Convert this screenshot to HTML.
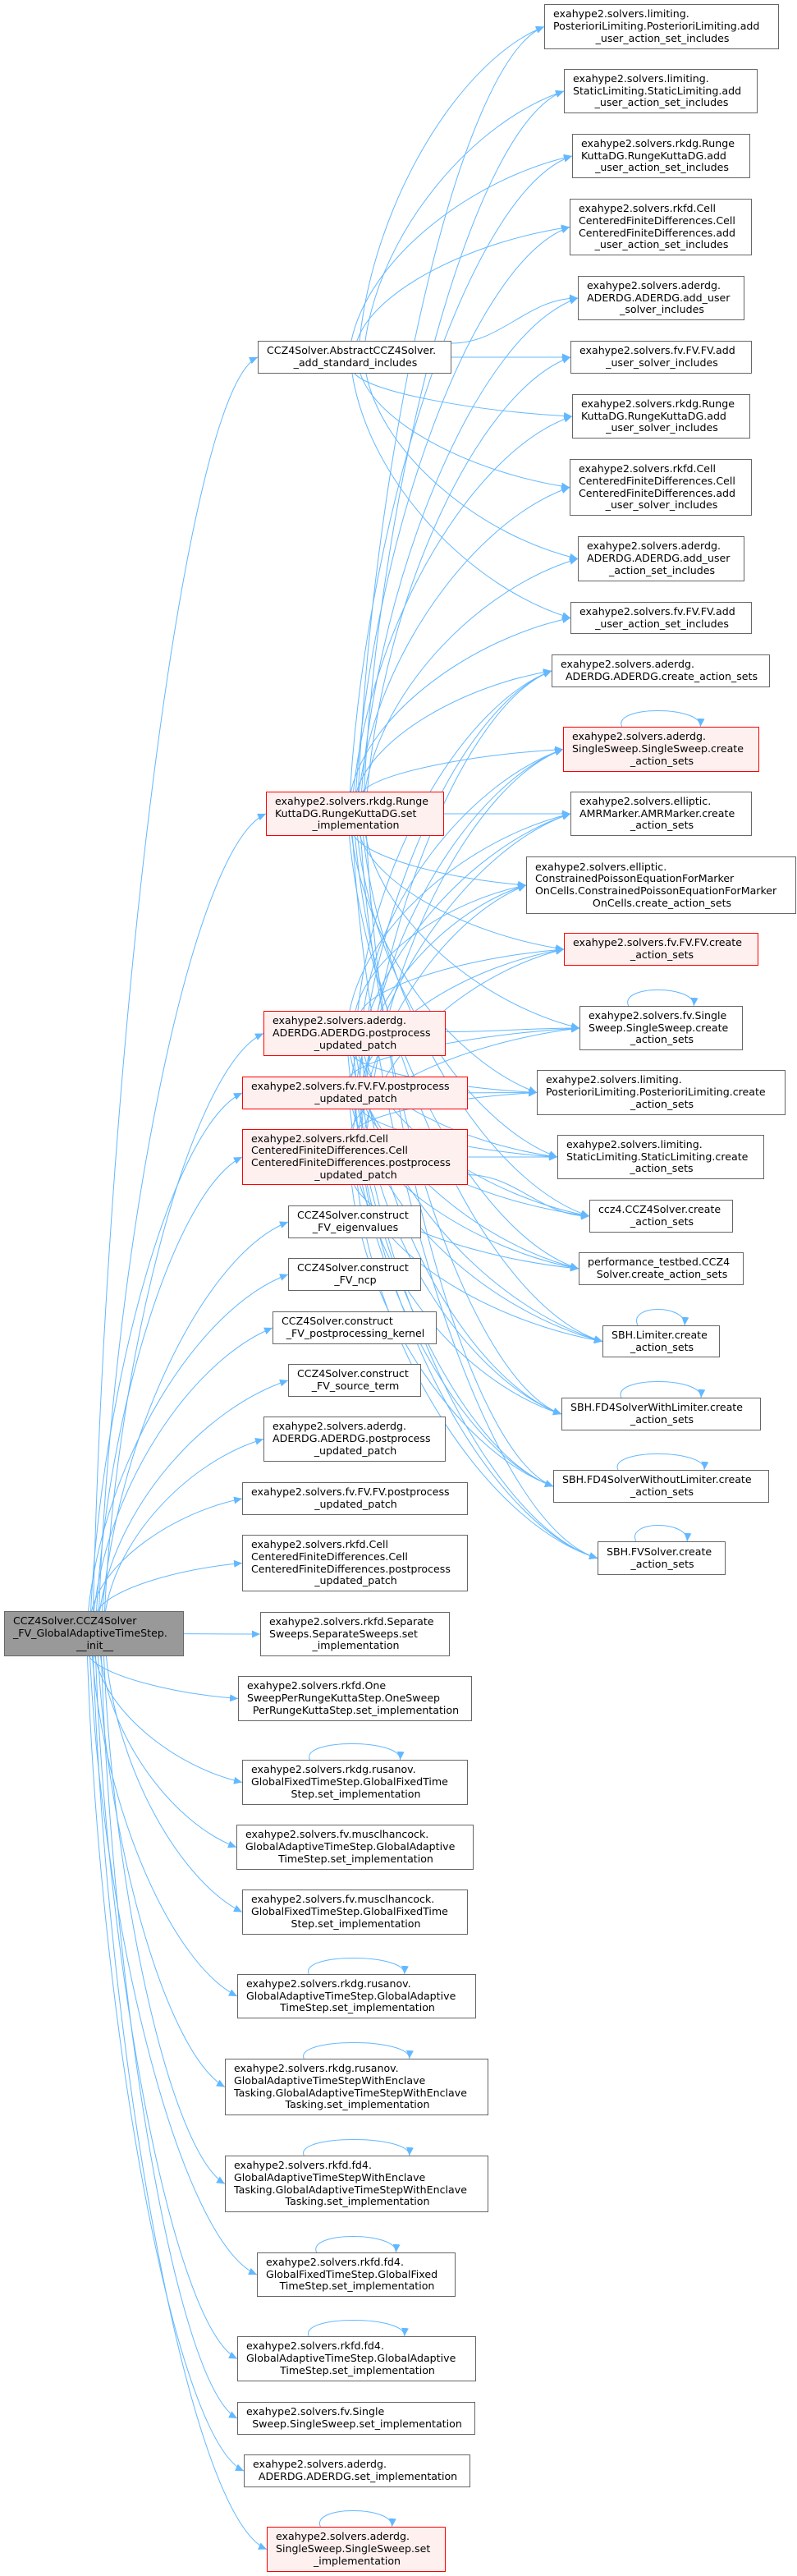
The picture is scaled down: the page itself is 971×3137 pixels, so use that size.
<!DOCTYPE html>
<html><head><meta charset="utf-8">
<style>
html,body{margin:0;padding:0;background:#fff}
body{width:971px;height:3137px;position:relative;overflow:hidden}
svg{position:absolute;left:0;top:0}
.n{position:absolute;box-sizing:border-box;border:1px solid #666;background:#fff;display:flex;flex-direction:column;justify-content:center;padding:0 8px 0 10px;font-family:"DejaVu Sans","Liberation Sans",sans-serif;font-size:12.6px;line-height:14.7px;white-space:nowrap;color:#000}
.n div:last-child{text-align:center}
.r{border-color:#f00;background:#fff0f0}
.g{background:#999}
</style></head><body>
<svg id="s" width="971" height="3137" viewBox="0 0 971 3137">
<defs><marker id="ar" markerUnits="userSpaceOnUse" markerWidth="11" markerHeight="9" refX="10" refY="4.5" orient="auto"><path d="M0,0 L10,4.5 L0,9 z" fill="#63b8ff"/></marker></defs>
<g id="eg" fill="none" stroke="#63b8ff" stroke-width="1"></g>
</svg>

<div class="n g" id="R" style="left:5px;top:1962px;width:219px;height:55px"><div>CCZ4Solver.CCZ4Solver</div><div>_FV_GlobalAdaptiveTimeStep.</div><div>__init__</div></div>
<div class="n" id="A" style="left:314px;top:415px;width:236px;height:40px"><div>CCZ4Solver.AbstractCCZ4Solver.</div><div>_add_standard_includes</div></div>

<div class="n" id="a1" style="left:663px;top:5px;width:286px;height:55px"><div>exahype2.solvers.limiting.</div><div>PosterioriLimiting.PosterioriLimiting.add</div><div>_user_action_set_includes</div></div>
<div class="n" id="a2" style="left:687px;top:84px;width:236px;height:54px"><div>exahype2.solvers.limiting.</div><div>StaticLimiting.StaticLimiting.add</div><div>_user_action_set_includes</div></div>
<div class="n" id="a3" style="left:697px;top:163px;width:217px;height:54px"><div>exahype2.solvers.rkdg.Runge</div><div>KuttaDG.RungeKuttaDG.add</div><div>_user_action_set_includes</div></div>
<div class="n" id="a4" style="left:694px;top:242px;width:222px;height:69px"><div>exahype2.solvers.rkfd.Cell</div><div>CenteredFiniteDifferences.Cell</div><div>CenteredFiniteDifferences.add</div><div>_user_action_set_includes</div></div>
<div class="n" id="a5" style="left:704px;top:336px;width:203px;height:54px"><div>exahype2.solvers.aderdg.</div><div>ADERDG.ADERDG.add_user</div><div>_solver_includes</div></div>
<div class="n" id="a6" style="left:695px;top:415px;width:221px;height:40px"><div>exahype2.solvers.fv.FV.FV.add</div><div>_user_solver_includes</div></div>
<div class="n" id="a7" style="left:697px;top:480px;width:217px;height:54px"><div>exahype2.solvers.rkdg.Runge</div><div>KuttaDG.RungeKuttaDG.add</div><div>_user_solver_includes</div></div>
<div class="n" id="a8" style="left:694px;top:559px;width:222px;height:69px"><div>exahype2.solvers.rkfd.Cell</div><div>CenteredFiniteDifferences.Cell</div><div>CenteredFiniteDifferences.add</div><div>_user_solver_includes</div></div>
<div class="n" id="a9" style="left:704px;top:653px;width:203px;height:55px"><div>exahype2.solvers.aderdg.</div><div>ADERDG.ADERDG.add_user</div><div>_action_set_includes</div></div>
<div class="n" id="a10" style="left:695px;top:733px;width:221px;height:39px"><div>exahype2.solvers.fv.FV.FV.add</div><div>_user_action_set_includes</div></div>

<div class="n" id="c1" style="left:672px;top:797px;width:266px;height:40px"><div>exahype2.solvers.aderdg.</div><div>ADERDG.ADERDG.create_action_sets</div></div>
<div class="n r" id="c2" style="left:686px;top:885px;width:239px;height:55px"><div>exahype2.solvers.aderdg.</div><div>SingleSweep.SingleSweep.create</div><div>_action_sets</div></div>
<div class="n" id="c3" style="left:695px;top:964px;width:221px;height:54px"><div>exahype2.solvers.elliptic.</div><div>AMRMarker.AMRMarker.create</div><div>_action_sets</div></div>
<div class="n" id="c4" style="left:641px;top:1043px;width:329px;height:70px"><div>exahype2.solvers.elliptic.</div><div>ConstrainedPoissonEquationForMarker</div><div>OnCells.ConstrainedPoissonEquationForMarker</div><div>OnCells.create_action_sets</div></div>
<div class="n r" id="c5" style="left:687px;top:1136px;width:237px;height:40px"><div>exahype2.solvers.fv.FV.FV.create</div><div>_action_sets</div></div>
<div class="n" id="c6" style="left:706px;top:1225px;width:199px;height:54px"><div>exahype2.solvers.fv.Single</div><div>Sweep.SingleSweep.create</div><div>_action_sets</div></div>
<div class="n" id="c7" style="left:654px;top:1303px;width:303px;height:55px"><div>exahype2.solvers.limiting.</div><div>PosterioriLimiting.PosterioriLimiting.create</div><div>_action_sets</div></div>
<div class="n" id="c8" style="left:679px;top:1382px;width:252px;height:54px"><div>exahype2.solvers.limiting.</div><div>StaticLimiting.StaticLimiting.create</div><div>_action_sets</div></div>
<div class="n" id="c9" style="left:718px;top:1461px;width:175px;height:40px"><div>ccz4.CCZ4Solver.create</div><div>_action_sets</div></div>
<div class="n" id="c10" style="left:705px;top:1525px;width:201px;height:40px"><div>performance_testbed.CCZ4</div><div>Solver.create_action_sets</div></div>
<div class="n" id="c11" style="left:734px;top:1614px;width:143px;height:39px"><div>SBH.Limiter.create</div><div>_action_sets</div></div>
<div class="n" id="c12" style="left:684px;top:1702px;width:243px;height:40px"><div>SBH.FD4SolverWithLimiter.create</div><div>_action_sets</div></div>
<div class="n" id="c13" style="left:674px;top:1790px;width:263px;height:40px"><div>SBH.FD4SolverWithoutLimiter.create</div><div>_action_sets</div></div>
<div class="n" id="c14" style="left:728px;top:1877px;width:156px;height:41px"><div>SBH.FVSolver.create</div><div>_action_sets</div></div>

<div class="n r" id="L1" style="left:324px;top:964px;width:217px;height:54px"><div>exahype2.solvers.rkdg.Runge</div><div>KuttaDG.RungeKuttaDG.set</div><div>_implementation</div></div>
<div class="n r" id="L2" style="left:321px;top:1231px;width:222px;height:55px"><div>exahype2.solvers.aderdg.</div><div>ADERDG.ADERDG.postprocess</div><div>_updated_patch</div></div>
<div class="n r" id="L3" style="left:295px;top:1311px;width:275px;height:40px"><div>exahype2.solvers.fv.FV.FV.postprocess</div><div>_updated_patch</div></div>
<div class="n r" id="L4" style="left:295px;top:1375px;width:275px;height:68px"><div>exahype2.solvers.rkfd.Cell</div><div>CenteredFiniteDifferences.Cell</div><div>CenteredFiniteDifferences.postprocess</div><div>_updated_patch</div></div>
<div class="n" id="L5" style="left:351px;top:1468px;width:162px;height:40px"><div>CCZ4Solver.construct</div><div>_FV_eigenvalues</div></div>
<div class="n" id="L6" style="left:351px;top:1532px;width:162px;height:40px"><div>CCZ4Solver.construct</div><div>_FV_ncp</div></div>
<div class="n" id="L7" style="left:332px;top:1597px;width:200px;height:40px"><div>CCZ4Solver.construct</div><div>_FV_postprocessing_kernel</div></div>
<div class="n" id="L8" style="left:351px;top:1661px;width:162px;height:40px"><div>CCZ4Solver.construct</div><div>_FV_source_term</div></div>
<div class="n" id="L9" style="left:321px;top:1725px;width:222px;height:55px"><div>exahype2.solvers.aderdg.</div><div>ADERDG.ADERDG.postprocess</div><div>_updated_patch</div></div>
<div class="n" id="L10" style="left:295px;top:1805px;width:275px;height:40px"><div>exahype2.solvers.fv.FV.FV.postprocess</div><div>_updated_patch</div></div>
<div class="n" id="L11" style="left:295px;top:1869px;width:275px;height:69px"><div>exahype2.solvers.rkfd.Cell</div><div>CenteredFiniteDifferences.Cell</div><div>CenteredFiniteDifferences.postprocess</div><div>_updated_patch</div></div>
<div class="n" id="L12" style="left:317px;top:1963px;width:231px;height:54px"><div>exahype2.solvers.rkfd.Separate</div><div>Sweeps.SeparateSweeps.set</div><div>_implementation</div></div>
<div class="n" id="L13" style="left:290px;top:2041px;width:285px;height:55px"><div>exahype2.solvers.rkfd.One</div><div>SweepPerRungeKuttaStep.OneSweep</div><div>PerRungeKuttaStep.set_implementation</div></div>
<div class="n" id="L14" style="left:295px;top:2143px;width:275px;height:55px"><div>exahype2.solvers.rkdg.rusanov.</div><div>GlobalFixedTimeStep.GlobalFixedTime</div><div>Step.set_implementation</div></div>
<div class="n" id="L15" style="left:288px;top:2222px;width:289px;height:55px"><div>exahype2.solvers.fv.musclhancock.</div><div>GlobalAdaptiveTimeStep.GlobalAdaptive</div><div>TimeStep.set_implementation</div></div>
<div class="n" id="L16" style="left:295px;top:2301px;width:275px;height:55px"><div>exahype2.solvers.fv.musclhancock.</div><div>GlobalFixedTimeStep.GlobalFixedTime</div><div>Step.set_implementation</div></div>
<div class="n" id="L17" style="left:289px;top:2404px;width:291px;height:54px"><div>exahype2.solvers.rkdg.rusanov.</div><div>GlobalAdaptiveTimeStep.GlobalAdaptive</div><div>TimeStep.set_implementation</div></div>
<div class="n" id="L18" style="left:274px;top:2507px;width:321px;height:69px"><div>exahype2.solvers.rkdg.rusanov.</div><div>GlobalAdaptiveTimeStepWithEnclave</div><div>Tasking.GlobalAdaptiveTimeStepWithEnclave</div><div>Tasking.set_implementation</div></div>
<div class="n" id="L19" style="left:274px;top:2625px;width:321px;height:69px"><div>exahype2.solvers.rkfd.fd4.</div><div>GlobalAdaptiveTimeStepWithEnclave</div><div>Tasking.GlobalAdaptiveTimeStepWithEnclave</div><div>Tasking.set_implementation</div></div>
<div class="n" id="L20" style="left:313px;top:2743px;width:242px;height:54px"><div>exahype2.solvers.rkfd.fd4.</div><div>GlobalFixedTimeStep.GlobalFixed</div><div>TimeStep.set_implementation</div></div>
<div class="n" id="L21" style="left:289px;top:2845px;width:291px;height:55px"><div>exahype2.solvers.rkfd.fd4.</div><div>GlobalAdaptiveTimeStep.GlobalAdaptive</div><div>TimeStep.set_implementation</div></div>
<div class="n" id="L22" style="left:289px;top:2925px;width:290px;height:40px"><div>exahype2.solvers.fv.Single</div><div>Sweep.SingleSweep.set_implementation</div></div>
<div class="n" id="L23" style="left:297px;top:2989px;width:276px;height:40px"><div>exahype2.solvers.aderdg.</div><div>ADERDG.ADERDG.set_implementation</div></div>
<div class="n r" id="L24" style="left:325px;top:3077px;width:218px;height:55px"><div>exahype2.solvers.aderdg.</div><div>SingleSweep.SingleSweep.set</div><div>_implementation</div></div>

<script>
(function(){
var g=document.getElementById('eg');
function R(id){var e=document.getElementById(id);return{x:e.offsetLeft,y:e.offsetTop,w:e.offsetWidth,h:e.offsetHeight};}
function P(d){var p=document.createElementNS('http://www.w3.org/2000/svg','path');p.setAttribute('d',d);p.setAttribute('marker-end','url(#ar)');g.appendChild(p);}
var k=0;
function E(a,b){
 var s=R(a),t=R(b);k++;
 var scx=s.x+s.w/2,scy=s.y+s.h/2,tx=t.x,ty=t.y+t.h/2;
 var dx=tx-(s.x+s.w),dy=ty-scy;
 var sx,sy,c1,c2;
 if(Math.abs(dy)<s.h/2+dx*0.35){
  sx=s.x+s.w;sy=scy+Math.max(-s.h/2+3,Math.min(s.h/2-3,dy*0.3));
  c1=[sx+dx*0.4,sy];c2=[tx-dx*0.4,ty];
 }else{
  var off=((k*7)%24)-8;
  sx=scx+off;sy=dy<0?s.y:s.y+s.h;
  var ady=Math.abs(ty-sy);
  c1=[sx+(tx-sx)*0.08,sy+(dy<0?-1:1)*ady*0.45];
  c2=[tx-(tx-sx)*0.45,ty-(dy<0?-1:1)*Math.min(ady*0.12,40)];
 }
 P('M'+sx+','+sy+' C'+c1[0]+','+c1[1]+' '+c2[0]+','+c2[1]+' '+tx+','+ty);
}
function Loop(id){var t=R(id);var x1=t.x+t.w*0.3,x2=t.x+t.w*0.7,y=t.y;
 P('M'+x1+','+y+' C'+(x1-12)+','+(y-26)+' '+(x2+2)+','+(y-26)+' '+x2+','+y);}
var i;
E('R','A');
for(i=1;i<=24;i++)E('R','L'+i);
for(i=1;i<=10;i++)E('A','a'+i);
for(i=1;i<=10;i++)E('L1','a'+i);
['L1','L2','L3','L4'].forEach(function(s){for(var j=1;j<=14;j++)E(s,'c'+j);});
['c2','c6','c11','c12','c13','c14','L14','L17','L18','L19','L20','L21','L24'].forEach(Loop);
})();
</script>
</body></html>
